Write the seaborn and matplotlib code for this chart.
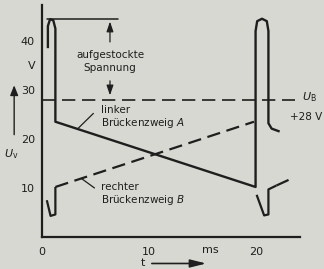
import matplotlib
matplotlib.use("Agg")
import matplotlib.pyplot as plt
import seaborn as sns
import pandas as pd

sns.set_theme(style="white")
plt.rcParams["font.family"] = ["DejaVu Sans"]

# ---- data ----
# left bridge branch A (solid)
a_t = [0.55, 0.55, 0.75, 1.05, 1.25, 1.25, 19.95, 19.95, 20.1, 20.55, 21.0, 21.15, 21.15, 21.45, 22.2]
a_v = [38.5, 43.0, 44.4, 44.2, 42.5, 23.5, 10.2, 42.0, 44.0, 44.5, 44.0, 42.0, 23.2, 22.1, 21.5]
# right bridge branch B: solid dips and dashed ramps
b_dip1_t = [0.45, 0.8, 1.25, 1.25]
b_dip1_v = [7.5, 4.3, 4.6, 10.2]
b_ramp1_t = [1.25, 19.8]
b_ramp1_v = [10.2, 23.5]
b_dip2_t = [20.05, 20.75, 21.15, 21.15, 21.9]
b_dip2_v = [8.6, 4.4, 4.6, 9.7, 10.5]
b_ramp2_t = [21.9, 23.4]
b_ramp2_v = [10.5, 12.0]
ub_t = [0.0, 23.6]
ub_v = [28.0, 28.0]
y_ticks = [10, 20, 30, 40]
x_ticks = [0, 10, 20]

INK = "#1e1e1e"
BG = "#d8d8d2"

fig = plt.figure(figsize=(3.24, 2.69), dpi=100, facecolor=BG)
ax = fig.add_axes([42 / 324, 32 / 269, 258 / 324, 232 / 269])
ax.set_facecolor(BG)

def seg(t, v, lw=1.5, dashes=None):
    df = pd.DataFrame({"t": t, "v": v})
    sns.lineplot(data=df, x="t", y="v", sort=False, estimator=None,
                 color=INK, lw=lw, ax=ax)
    ln = ax.lines[-1]
    ln.set_solid_joinstyle("round")
    ln.set_solid_capstyle("butt")
    if dashes:
        ln.set_dashes(dashes)
    ln.set_clip_on(False)

seg(ub_t, ub_v, lw=1.2, dashes=(8, 4))
seg(a_t, a_v, lw=1.7)
seg(b_dip1_t, b_dip1_v, lw=1.6)
seg(b_ramp1_t, b_ramp1_v, lw=1.6, dashes=(6, 3))
seg(b_dip2_t, b_dip2_v, lw=1.6)
seg(b_ramp2_t, b_ramp2_v, lw=1.6, dashes=(6, 3))

ax.set_xlim(0, 24.1)
ax.set_ylim(0, 47.3)
ax.set_xlabel("")
ax.set_ylabel("")
for s in ["top", "right"]:
    ax.spines[s].set_visible(False)
for s in ["left", "bottom"]:
    ax.spines[s].set_color(INK)
    ax.spines[s].set_linewidth(1.6)

ax.set_yticks(y_ticks)
ax.set_yticklabels([str(v) for v in y_ticks])
ax.set_xticks(x_ticks)
ax.set_xticklabels([str(v) for v in x_ticks])
ax.tick_params(axis="both", direction="in", length=3, width=1, color=INK,
               labelsize=8, labelcolor=INK)
ax.tick_params(axis="y", pad=5)
ax.tick_params(axis="x", pad=7)

fs = 8
ax.text(-0.95, 34.9, "V", ha="center", va="center", fontsize=fs, color=INK)
ax.text(15.7, -2.65, "ms", ha="center", va="center", fontsize=fs, color=INK, clip_on=False)

# y quantity with arrow
ax.text(-2.85, 16.8, r"$U_\mathrm{v}$", ha="center", va="center", fontsize=fs, color=INK, clip_on=False)
ax.annotate("", xy=(-2.6, 31.5), xytext=(-2.6, 20.3), xycoords="data",
            arrowprops=dict(arrowstyle="-|>,head_length=0.5,head_width=0.2", color=INK, lw=1.0),
            annotation_clip=False)
# t with arrow
ax.text(9.4, -5.4, "t", ha="center", va="center", fontsize=fs, color=INK, clip_on=False)
ax.annotate("", xy=(15.6, -5.4), xytext=(10.0, -5.4),
            arrowprops=dict(arrowstyle="-|>,head_length=0.8,head_width=0.2", color=INK, lw=1.2),
            annotation_clip=False)

# U_B labels
ax.text(24.3, 28.6, r"$U_\mathrm{B}$", ha="left", va="center", fontsize=fs, color=INK, clip_on=False)
ax.text(23.2, 24.5, "+28 V", ha="left", va="center", fontsize=7.5, color=INK, clip_on=False)

# stacked voltage annotation
ax.plot([0.5, 7.1], [44.5, 44.5], color=INK, lw=1.1)
ax.annotate("", xy=(6.35, 44.5), xytext=(6.35, 39.2),
            arrowprops=dict(arrowstyle="-|>,head_length=0.5,head_width=0.17", color=INK, lw=0.9))
ax.annotate("", xy=(6.35, 28.3), xytext=(6.35, 32.4),
            arrowprops=dict(arrowstyle="-|>,head_length=0.5,head_width=0.17", color=INK, lw=0.9))
ax.text(6.35, 37.2, "aufgestockte", ha="center", va="center", fontsize=7.5, color=INK)
ax.text(6.35, 34.5, "Spannung", ha="center", va="center", fontsize=7.5, color=INK)

# branch labels
ax.text(5.5, 25.9, "linker", ha="left", va="center", fontsize=7.5, color=INK)
ax.text(5.5, 23.2, r"Brückenzweig $A$", ha="left", va="center", fontsize=7.5, color=INK)
ax.plot([4.8, 3.35], [25.2, 22.1], color=INK, lw=0.9)
ax.text(5.5, 10.2, "rechter", ha="left", va="center", fontsize=7.5, color=INK)
ax.text(5.5, 7.5, r"Brückenzweig $B$", ha="left", va="center", fontsize=7.5, color=INK)
ax.plot([3.7, 4.9], [11.9, 10.0], color=INK, lw=0.9)

fig.savefig("out.png", dpi=100, facecolor=BG)
